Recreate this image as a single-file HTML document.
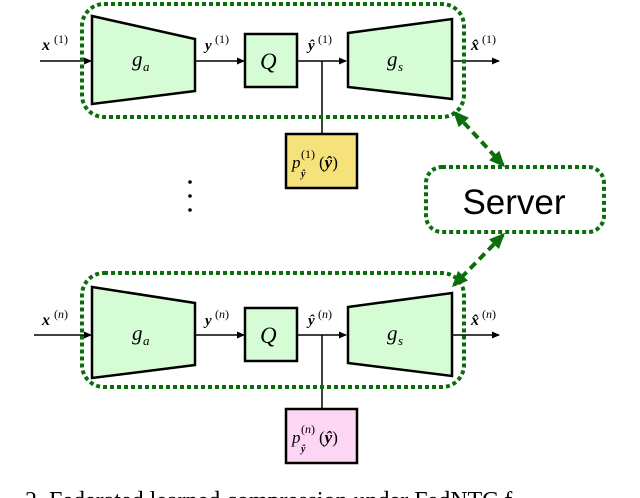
<!DOCTYPE html>
<html><head><meta charset="utf-8"><style>
html,body{margin:0;padding:0;background:#fff;width:640px;height:498px;overflow:hidden}
svg{display:block;overflow:hidden}
svg text{font-family:"Liberation Serif",serif}
</style></head><body>
<svg width="640" height="498" viewBox="0 0 640 498" xmlns="http://www.w3.org/2000/svg">
<defs>
<marker id="ah" markerWidth="8" markerHeight="8" refX="7" refY="4" orient="auto" markerUnits="userSpaceOnUse">
<path d="M0,0.5 L8,4 L0,7.5 z" fill="#000"/></marker>
<marker id="gh" markerWidth="16" markerHeight="16" refX="13" refY="8" orient="auto-start-reverse" markerUnits="userSpaceOnUse">
<path d="M0,1 L16,8 L0,15 z" fill="#0a6e0a"/></marker>
</defs>

<!-- TOP -->
<g>
<line x1="40" y1="61" x2="91" y2="61" stroke="#000" stroke-width="1.5" marker-end="url(#ah)"/>
<text x="42" y="50" font-size="16" font-weight="bold" font-style="italic">x</text><text x="54" y="43" font-size="12">(1)</text>
<polygon points="92,16 195,39 195,91 92,104" fill="#d5fcd5" stroke="#000" stroke-width="2.5"/>
<text x="132" y="66" font-size="21" font-style="italic">g</text><text x="143" y="71" font-size="13" font-style="italic">a</text>
<line x1="195" y1="61" x2="244" y2="61" stroke="#000" stroke-width="1.5" marker-end="url(#ah)"/>
<text x="205" y="50" font-size="15" font-weight="bold" font-style="italic">y</text><text x="215" y="43" font-size="12">(1)</text>
<rect x="245" y="34" width="52" height="53" fill="#d5fcd5" stroke="#000" stroke-width="2.5"/>
<text x="260" y="69" font-size="23" font-style="italic">Q</text>
<line x1="298" y1="61" x2="346" y2="61" stroke="#000" stroke-width="1.5" marker-end="url(#ah)"/>
<text x="308" y="50" font-size="15" font-weight="bold" font-style="italic">ŷ</text><text x="318" y="43" font-size="12">(1)</text>
<line x1="322" y1="61" x2="322" y2="134" stroke="#000" stroke-width="1.5"/>
<polygon points="348,33 452,19 452,99 348,87" fill="#d5fcd5" stroke="#000" stroke-width="2.5"/>
<text x="387" y="66" font-size="21" font-style="italic">g</text><text x="398" y="71" font-size="13" font-style="italic">s</text>
<line x1="452" y1="61" x2="499" y2="61" stroke="#000" stroke-width="1.5" marker-end="url(#ah)"/>
<text x="471" y="50" font-size="16" font-weight="bold" font-style="italic">x̂</text><text x="482" y="43" font-size="12">(1)</text>
<rect x="82" y="4" width="382" height="113" rx="22" fill="none" stroke="#0a6e0a" stroke-width="4" stroke-dasharray="4,3"/>
<rect x="286" y="134" width="71" height="54" fill="#f5e27a" stroke="#000" stroke-width="2.5"/>
<text x="292" y="168" font-size="17" font-style="italic">p</text><text x="301" y="158" font-size="12">(1)</text><text x="301" y="177" font-size="10" font-weight="bold" font-style="italic">ŷ</text><text x="319" y="168" font-size="17">(<tspan font-style="italic" font-weight="bold">ŷ</tspan>)</text>
</g>

<circle cx="190" cy="182" r="1.8" fill="#000"/><circle cx="190" cy="196" r="1.8" fill="#000"/><circle cx="190" cy="210" r="1.8" fill="#000"/>

<rect x="426" y="167" width="178" height="65" rx="16" fill="none" stroke="#0a6e0a" stroke-width="4" stroke-dasharray="4,3"/>
<text x="514" y="214" font-size="35" text-anchor="middle" style="font-family:'Liberation Sans',sans-serif">Server</text>
<line x1="455" y1="113" x2="503" y2="165" stroke="#0a6e0a" stroke-width="4" stroke-dasharray="8,5" marker-start="url(#gh)" marker-end="url(#gh)"/>
<line x1="503" y1="235" x2="454" y2="285" stroke="#0a6e0a" stroke-width="4" stroke-dasharray="8,5" marker-start="url(#gh)" marker-end="url(#gh)"/>

<!-- BOTTOM -->
<g>
<line x1="34" y1="335" x2="91" y2="335" stroke="#000" stroke-width="1.5" marker-end="url(#ah)"/>
<text x="42" y="325" font-size="16" font-weight="bold" font-style="italic">x</text><text x="54" y="318" font-size="12">(<tspan font-style="italic">n</tspan>)</text>
<polygon points="92,287 195,303 195,365 92,378" fill="#d5fcd5" stroke="#000" stroke-width="2.5"/>
<text x="132" y="340" font-size="21" font-style="italic">g</text><text x="143" y="345" font-size="13" font-style="italic">a</text>
<line x1="195" y1="335" x2="244" y2="335" stroke="#000" stroke-width="1.5" marker-end="url(#ah)"/>
<text x="205" y="325" font-size="15" font-weight="bold" font-style="italic">y</text><text x="215" y="318" font-size="12">(<tspan font-style="italic">n</tspan>)</text>
<rect x="245" y="308" width="52" height="53" fill="#d5fcd5" stroke="#000" stroke-width="2.5"/>
<text x="260" y="343" font-size="23" font-style="italic">Q</text>
<line x1="298" y1="335" x2="346" y2="335" stroke="#000" stroke-width="1.5" marker-end="url(#ah)"/>
<text x="308" y="325" font-size="15" font-weight="bold" font-style="italic">ŷ</text><text x="318" y="318" font-size="12">(<tspan font-style="italic">n</tspan>)</text>
<line x1="322" y1="335" x2="322" y2="409" stroke="#000" stroke-width="1.5"/>
<polygon points="348,307 452,293 452,376 348,363" fill="#d5fcd5" stroke="#000" stroke-width="2.5"/>
<text x="387" y="340" font-size="21" font-style="italic">g</text><text x="398" y="345" font-size="13" font-style="italic">s</text>
<line x1="452" y1="335" x2="499" y2="335" stroke="#000" stroke-width="1.5" marker-end="url(#ah)"/>
<text x="471" y="325" font-size="16" font-weight="bold" font-style="italic">x̂</text><text x="482" y="318" font-size="12">(<tspan font-style="italic">n</tspan>)</text>
<rect x="82" y="273" width="382" height="114" rx="22" fill="none" stroke="#0a6e0a" stroke-width="4" stroke-dasharray="4,3"/>
<rect x="286" y="409" width="71" height="54" fill="#fdd6f3" stroke="#000" stroke-width="2.5"/>
<text x="292" y="443" font-size="17" font-style="italic">p</text><text x="301" y="433" font-size="12">(<tspan font-style="italic">n</tspan>)</text><text x="301" y="452" font-size="10" font-weight="bold" font-style="italic">ŷ</text><text x="319" y="443" font-size="17">(<tspan font-style="italic" font-weight="bold">ŷ</tspan>)</text>
</g>

<text x="25" y="508" font-size="24">2. Federated learned compression under FedNTC f</text>
</svg>
</body></html>
